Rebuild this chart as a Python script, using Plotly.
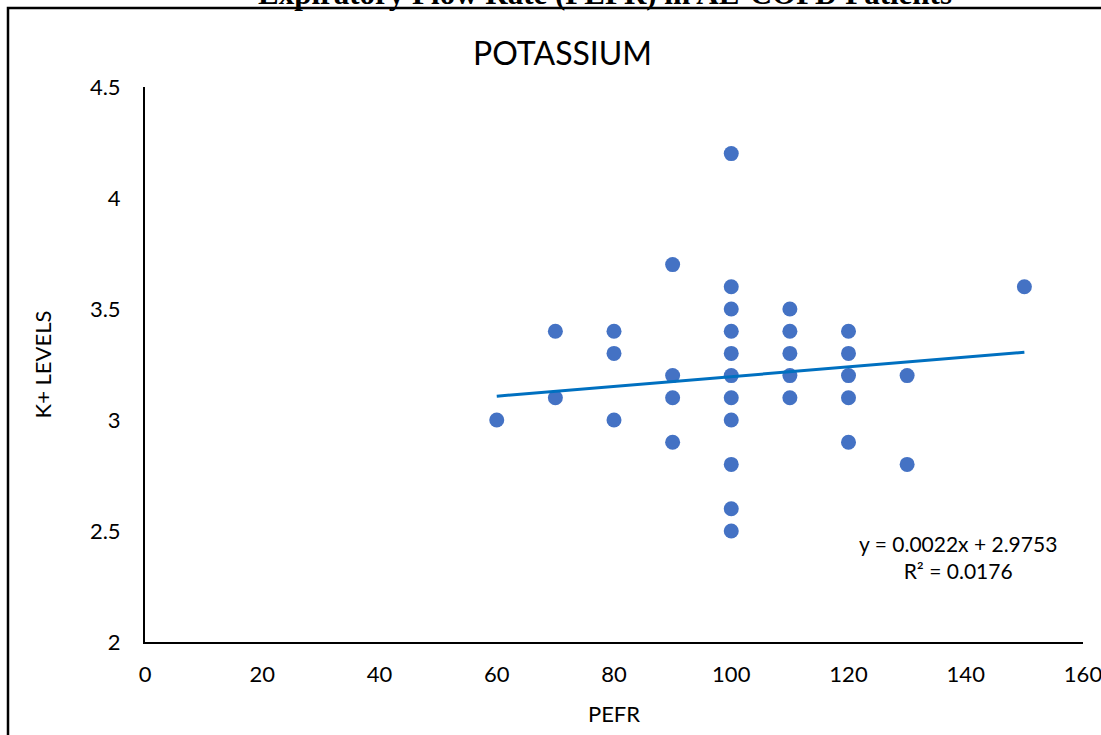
import plotly.graph_objects as go

# Data
pefr = [60,
        70, 70,
        80, 80, 80,
        90, 90, 90, 90,
        100, 100, 100, 100, 100, 100, 100, 100, 100, 100, 100,
        110, 110, 110, 110, 110,
        120, 120, 120, 120, 120,
        130, 130,
        150]
k_levels = [3.0,
            3.4, 3.1,
            3.4, 3.3, 3.0,
            3.7, 3.2, 3.1, 2.9,
            4.2, 3.6, 3.5, 3.4, 3.3, 3.2, 3.1, 3.0, 2.8, 2.6, 2.5,
            3.5, 3.4, 3.3, 3.2, 3.1,
            3.4, 3.3, 3.2, 3.1, 2.9,
            3.2, 2.8,
            3.6]
slope = 0.0022
intercept = 2.9753
r_squared = 0.0176

x_ticks = [0, 20, 40, 60, 80, 100, 120, 140, 160]
y_ticks = [2, 2.5, 3, 3.5, 4, 4.5]

W, H = 1101, 735
L, R, T, B = 145, 18, 87, 93
pw, ph = W - L - R, H - T - B

def px_x(p):
    return (p - L) / pw

def px_y(p):
    return (H - B - p) / ph

font_main = "Lato, 'Open Sans', sans-serif"

fig = go.Figure()
fig.add_trace(go.Scatter(
    x=pefr, y=k_levels, mode="markers",
    marker=dict(size=15, color="#4472C4"),
    hoverinfo="skip", showlegend=False))

x_line = [min(pefr), max(pefr)]
y_line = [slope * v + intercept for v in x_line]
fig.add_trace(go.Scatter(
    x=x_line, y=y_line, mode="lines",
    line=dict(color="#0070C0", width=3),
    hoverinfo="skip", showlegend=False))

fig.update_layout(
    width=W, height=H,
    margin=dict(l=L, r=R, t=T, b=B, autoexpand=False),
    paper_bgcolor="white", plot_bgcolor="white",
    font=dict(family=font_main, size=22, color="#000000"),
    xaxis=dict(range=[0, 160], tickvals=x_ticks, showgrid=False, zeroline=False,
               showline=True, linecolor="#000000", linewidth=2, ticks="",
               ticklabelstandoff=12, automargin=False, ticklabeloverflow="allow",
               title=dict(text="PEFR", font=dict(size=22), standoff=20)),
    yaxis=dict(range=[2, 4.5], tickvals=y_ticks, showgrid=False, zeroline=False,
               showline=True, linecolor="#000000", linewidth=2, ticks="",
               ticklabelstandoff=18, automargin=False, ticklabeloverflow="allow",
               title=dict(text="K+ LEVELS", font=dict(size=22), standoff=32)),
    showlegend=False,
)

# Chart title
fig.add_annotation(text="POTASSIUM", xref="paper", yref="paper",
                   x=px_x(562), y=px_y(53), xanchor="center", yanchor="middle",
                   showarrow=False, font=dict(size=32, family=font_main))

# Trendline equation
fig.add_annotation(text=f"y = {slope}x + {intercept}<br>R² = {r_squared}",
                   xref="paper", yref="paper",
                   x=px_x(958), y=px_y(557), xanchor="center", yanchor="middle",
                   showarrow=False, align="center",
                   font=dict(size=21, family=font_main))

# Cut-off document caption above the chart box
fig.add_annotation(text="<b>Expiratory Flow Rate (PEFR) in AE-COPD Patients</b>",
                   xref="paper", yref="paper",
                   x=px_x(605), y=px_y(13), xanchor="center", yanchor="bottom",
                   showarrow=False,
                   font=dict(size=31, family="'Liberation Serif', 'Times New Roman', serif"))

# Chart box border
fig.add_shape(type="rect", xref="paper", yref="paper",
              x0=px_x(8), x1=px_x(1130), y0=px_y(760), y1=px_y(8),
              line=dict(color="#000000", width=2.5), fillcolor="rgba(0,0,0,0)",
              layer="below")

fig.write_html("out.html", config={"displayModeBar": False})
